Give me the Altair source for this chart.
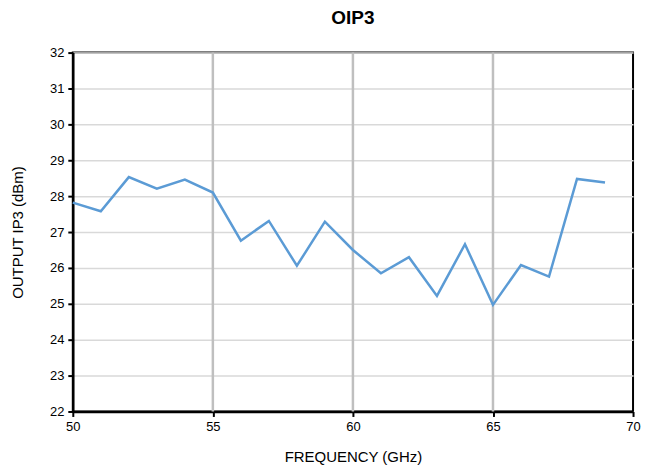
import altair as alt
import pandas as pd

freq = list(range(50, 70))
oip3 = [27.82, 27.58, 28.53, 28.21, 28.46, 28.1, 26.76, 27.31, 26.06, 27.29,
        26.5, 25.85, 26.3, 25.22, 26.66, 24.97, 26.08, 25.76, 28.48, 28.38]
vgrid = [55, 60, 65]

df = pd.DataFrame({"freq": freq, "oip3": oip3})
gdf = pd.DataFrame({"g": vgrid})

FONT = "Liberation Sans"

xscale = alt.Scale(domain=[50, 70], nice=False, zero=False)
yscale = alt.Scale(domain=[22, 32], nice=False, zero=False)

grid = alt.Chart(gdf).mark_rule(color="#bfbfbf", strokeWidth=2.5).encode(
    x=alt.X("g:Q", scale=xscale)
)

line = alt.Chart(df).mark_line(color="#5b9bd5", strokeWidth=2.5).encode(
    x=alt.X("freq:Q", scale=xscale,
            axis=alt.Axis(title="FREQUENCY (GHz)", values=[50, 55, 60, 65, 70],
                          grid=False, tickSize=5, tickColor="black", tickWidth=2,
                          domainColor="black", domainWidth=2.5, labelFlush=False,
                          labelFontSize=13, labelPadding=4, labelColor="black",
                          titleFontSize=15, titleFontWeight="normal", titlePadding=16,
                          titleColor="black", labelFont=FONT, titleFont=FONT)),
    y=alt.Y("oip3:Q", scale=yscale,
            axis=alt.Axis(title="OUTPUT IP3 (dBm)", values=list(range(22, 33)),
                          grid=True, gridColor="#d9d9d9", gridWidth=1.5,
                          tickSize=5, tickColor="black", tickWidth=2,
                          domainColor="black", domainWidth=2.5, labelFlush=False,
                          labelFontSize=13, labelPadding=4, labelColor="black",
                          titleFontSize=15, titleFontWeight="normal", titlePadding=24,
                          titleColor="black", labelFont=FONT, titleFont=FONT)),
)

chart = alt.layer(grid, line).properties(
    width=562, height=360,
    title=alt.TitleParams("OIP3", fontSize=19, fontWeight="bold", font=FONT,
                          anchor="middle", offset=19, color="black"),
    autosize=alt.AutoSizeParams(type="none"),
    padding={"left": 65, "top": 44, "right": 12, "bottom": 64},
).configure_view(stroke="black", strokeWidth=2)

chart.save("out.html", embed_options={"renderer": "svg", "actions": False})
